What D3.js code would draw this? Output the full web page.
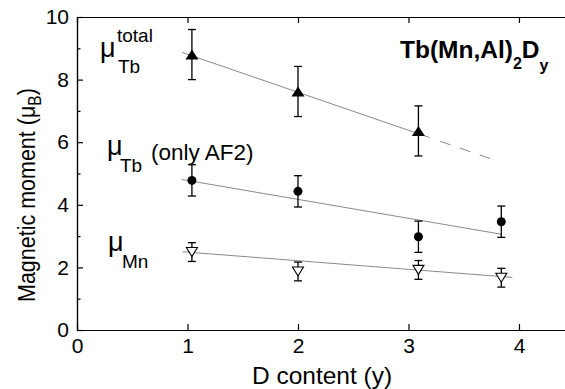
<!DOCTYPE html>
<html><head><meta charset="utf-8">
<script src="https://cdn.jsdelivr.net/npm/d3@7"></script>
<style>
html,body{margin:0;padding:0;background:#fff;}
svg{display:block;font-family:"Liberation Sans",Arial,sans-serif;}
</style></head>
<body><svg id="chart" width="565" height="389"></svg>
<script>
// ---- data ----
const xTotal = [1.04, 2.0, 3.09];
const muTotal = [8.80, 7.62, 6.36];
const errTotal = [0.8, 0.8, 0.8];

const xAF2 = [1.04, 2.0, 3.09, 3.84];
const muAF2 = [4.78, 4.43, 2.98, 3.46];
const errAF2 = [0.5, 0.5, 0.5, 0.5];

const xMn = [1.04, 2.0, 3.09, 3.84];
const muMn = [2.49, 1.87, 1.92, 1.67];
const errMn = [0.3, 0.3, 0.3, 0.3];

// linear fits (end points)
const fitTotalSolid = [[0.95, 8.87], [3.19, 6.15]];
const fitTotalDashed = [[3.285, 6.03], [3.78, 5.43]];
const fitAF2 = [[0.947, 4.81], [3.84, 3.06]];
const fitMn = [[0.956, 2.50], [3.94, 1.68]];

const xTicks = [0, 1, 2, 3, 4];
const yTicks = [0, 2, 4, 6, 8, 10];
const yMinor = [1, 3, 5, 7, 9];

// ---- scales ----
const svg = d3.select("#chart");
const x = d3.scaleLinear().domain([0, 4.45]).range([77, 568.7]);
const y = d3.scaleLinear().domain([0, 10]).range([330, 17]);

// ---- axes ----
const axisStyle = g => {
  g.selectAll("path.domain").attr("stroke", "#000").attr("stroke-width", 1.2);
  g.selectAll(".tick line").attr("stroke", "#000").attr("stroke-width", 1.2);
  g.selectAll("text").attr("font-family", "Liberation Sans, Arial, sans-serif")
    .attr("font-size", 21).attr("fill", "#000");
};
svg.append("g").attr("transform", `translate(0,${y(0)})`)
  .call(d3.axisBottom(x).tickValues(xTicks).tickSizeInner(-6).tickSizeOuter(0).tickPadding(8).tickFormat(d3.format("d")))
  .call(axisStyle);
svg.append("g").attr("transform", `translate(0,${y(10)})`)
  .call(d3.axisTop(x).tickValues(xTicks).tickSizeInner(-6).tickSizeOuter(0).tickFormat(""))
  .call(axisStyle);
svg.append("g").attr("transform", `translate(${x(0)},0)`)
  .call(d3.axisLeft(y).tickValues(yTicks).tickSizeInner(-6).tickSizeOuter(0).tickPadding(8).tickFormat(d3.format("d")))
  .call(axisStyle);
svg.append("g").attr("transform", `translate(${x(0)},0)`)
  .call(d3.axisLeft(y).tickValues(yMinor).tickSizeInner(-3.5).tickSizeOuter(0).tickFormat(""))
  .call(axisStyle);

// ---- fit lines ----
const line = d3.line().x(d => x(d[0])).y(d => y(d[1]));
const fitG = svg.append("g").attr("fill", "none").attr("stroke", "#8a8a8a").attr("stroke-width", 1);
fitG.append("path").attr("d", line(fitTotalSolid));
fitG.append("path").attr("d", line(fitTotalDashed)).attr("stroke-dasharray", "11,10");
fitG.append("path").attr("d", line(fitAF2));
fitG.append("path").attr("d", line(fitMn));

// ---- error bars ----
function errorBars(xs, ys, es) {
  const g = svg.append("g").attr("stroke", "#000").attr("stroke-width", 1.3);
  xs.forEach((xv, i) => {
    const cx = x(xv), y1 = y(ys[i] + es[i]), y2 = y(ys[i] - es[i]);
    g.append("line").attr("x1", cx).attr("x2", cx).attr("y1", y1).attr("y2", y2);
    g.append("line").attr("x1", cx - 4).attr("x2", cx + 4).attr("y1", y1).attr("y2", y1);
    g.append("line").attr("x1", cx - 4).attr("x2", cx + 4).attr("y1", y2).attr("y2", y2);
  });
}
errorBars(xTotal, muTotal, errTotal);
errorBars(xAF2, muAF2, errAF2);
errorBars(xMn, muMn, errMn);

// ---- markers ----
svg.append("g").selectAll("path").data(xTotal).join("path")
  .attr("d", (d, i) => {
    const cx = x(d), cy = y(muTotal[i]);
    return `M${cx},${cy - 5}L${cx + 6.5},${cy + 5}L${cx - 6.5},${cy + 5}Z`;
  }).attr("fill", "#000");
svg.append("g").selectAll("circle").data(xAF2).join("circle")
  .attr("cx", d => x(d)).attr("cy", (d, i) => y(muAF2[i])).attr("r", 4.5).attr("fill", "#000");
svg.append("g").selectAll("path").data(xMn).join("path")
  .attr("d", (d, i) => {
    const cx = x(d), cy = y(muMn[i]);
    return `M${cx - 5.5},${cy - 4.5}L${cx + 5.5},${cy - 4.5}L${cx},${cy + 4.5}Z`;
  }).attr("fill", "#fff").attr("stroke", "#000").attr("stroke-width", 1.1);

// ---- labels ----
const T = (tx, ty, str, size, opts = {}) => {
  const t = svg.append("text").attr("x", tx).attr("y", ty).attr("font-size", size).attr("fill", "#000").text(str);
  if (opts.anchor) t.attr("text-anchor", opts.anchor);
  if (opts.bold) t.attr("font-weight", "bold");
  return t;
};
// axis titles
T(322, 384, "D content (y)", 24.5, { anchor: "middle" });
const yl = svg.append("text").attr("transform", "translate(35,302) scale(1.15,1) rotate(-90)")
  .attr("font-size", 21.5).attr("fill", "#000");
yl.append("tspan").text("Magnetic moment (μ");
yl.append("tspan").attr("font-size", 15.5).attr("dy", 5).text("B");
yl.append("tspan").attr("dy", -5).text(")");

// compound title
const tt = svg.append("text").attr("x", 400).attr("y", 58).attr("font-size", 24.5).attr("font-weight", "bold").attr("fill", "#000");
tt.append("tspan").text("Tb(Mn,Al)");
tt.append("tspan").attr("font-size", 16).attr("dy", 11).text("2");
tt.append("tspan").attr("dy", -11).text("D");
tt.append("tspan").attr("font-size", 16).attr("dy", 13).text("y");

// series annotations
T(100, 57, "μ", 27);
T(117, 42, "total", 19);
T(118, 73, "Tb", 19);

T(107, 155, "μ", 27);
T(120, 172, "Tb", 19);
T(151, 160, "(only AF2)", 22.5);

T(108, 251, "μ", 27);
T(122, 268, "Mn", 19);
</script></body></html>
